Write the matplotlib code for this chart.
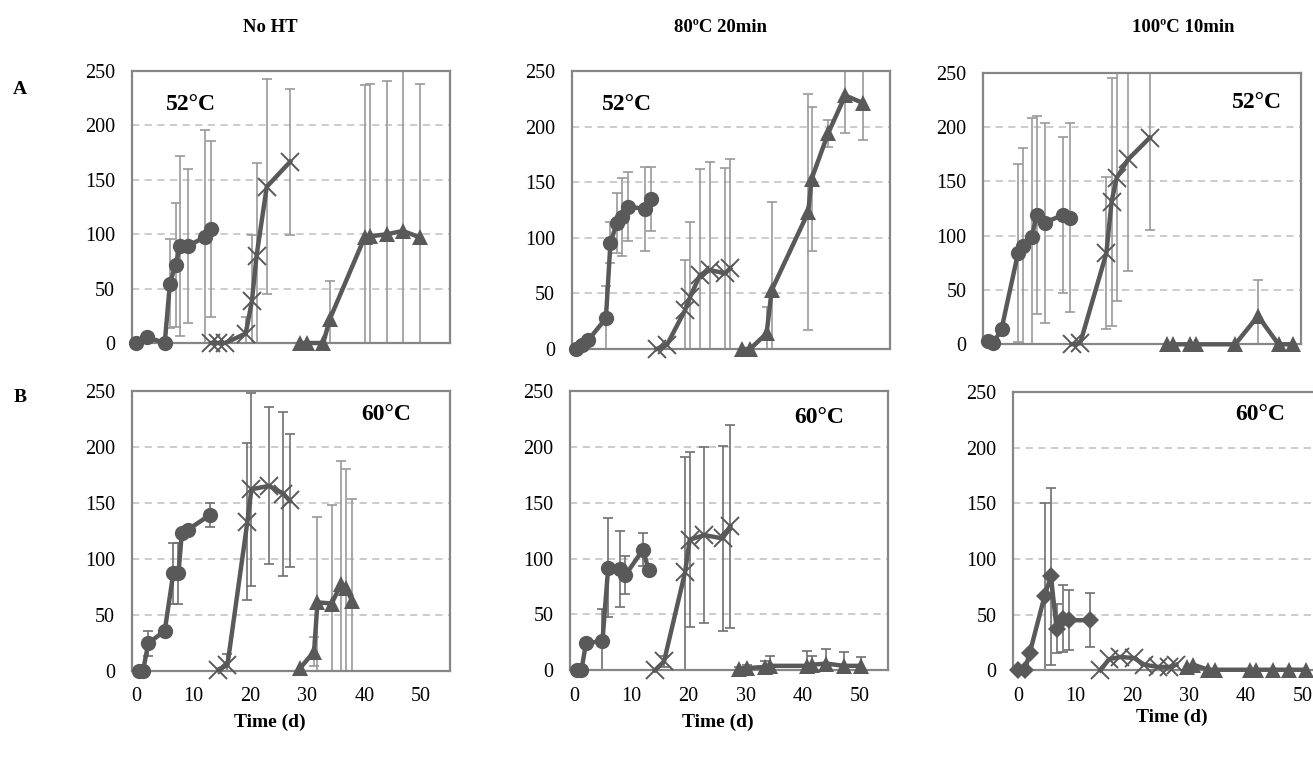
import numpy as np
import matplotlib
matplotlib.use("Agg")
from matplotlib import pyplot as plt

plt.rcParams['font.family'] = ['Liberation Serif', 'DejaVu Serif']

# ---- data (day, value, error) ----
# row A (52 C)
tl_c_day = [0, 1.8, 5.0, 5.9, 6.9, 7.7, 9.0, 12.1, 13.2]
tl_c_val = [0, 5.5, 0, 54.6, 72, 89, 89, 97.5, 105]
tl_c_err = [0, 0, 0, 41, 57, 83, 71, 98, 81]
tl_x_day = [13.2, 14.4, 15.6, 19.2, 20.3, 21.1, 22.9, 27.0]
tl_x_val = [0, 0, 0, 8.6, 38.7, 79.8, 143.6, 166.6]
tl_x_err = [0, 0, 0, 15, 61, 86, 99, 67]
tl_t_day = [28.7, 29.9, 32.8, 34.0, 40.1, 41.0, 44.0, 46.8, 49.8]
tl_t_val = [0, 0, 0, 22.4, 97.5, 98, 100, 103, 97]
tl_t_err = [0, 0, 0, 35, 140, 140, 141, 150, 141]

tm_c_day = [0, 0.95, 2.1, 5.2, 6.0, 7.1, 8.0, 9.0, 12.1, 13.1]
tm_c_val = [0, 3.6, 8, 27.5, 95.5, 113, 119, 128, 126, 135]
tm_c_err = [0, 0, 0, 29.5, 18.5, 27, 35, 31, 38, 29]
tm_x_day = [14.1, 15.9, 19.1, 20.0, 21.7, 23.5, 26.1, 27.0]
tm_x_val = [0, 3.6, 35, 47, 66.5, 71, 68, 72.5]
tm_x_err = [0, 0, 45, 67, 95, 97, 95, 98.5]
tm_t_day = [29.0, 30.5, 33.4, 34.3, 40.7, 41.3, 44.2, 47.2, 50.4]
tm_t_val = [0, 0, 14, 53, 123, 153, 194, 228, 221]
tm_t_err = [0, 0, 24, 79, 106, 65, 12, 34, 33]

tr_c_day = [0, 0.95, 2.4, 5.3, 6.2, 7.7, 8.6, 10.0, 13.2, 14.4]
tr_c_val = [3, 1, 14, 84, 90, 99, 119, 112, 119, 116.5]
tr_c_err = [0, 0, 0, 82, 91, 109, 91, 92, 72, 87]
tr_x_day = [14.7, 16.2, 20.8, 21.7, 22.6, 24.6, 28.4]
tr_x_val = [0, 1, 84, 131, 153, 170, 190]
tr_x_err = [0, 0, 70, 114, 113, 103, 85]
tr_t_day = [31.4, 32.5, 35.5, 36.6, 43.4, 47.4, 51.0, 53.6]
tr_t_val = [0, 0, 0, 0, 0, 26, 0, 0]
tr_t_err = [0, 0, 0, 0, 0, 33, 0, 0]

# row B (60 C)
bl_c_day = [0.4, 1.2, 2.1, 5.0, 6.5, 7.4, 8.0, 9.0, 12.9]
bl_c_val = [0, 0, 24.4, 35.7, 87, 87, 123, 125.6, 139]
bl_c_err = [0, 0, 11, 0, 27, 27, 0, 0, 11]
bl_x_day = [14.4, 16.0, 19.5, 20.2, 23.3, 25.8, 26.9]
bl_x_val = [1, 5, 133, 162, 165, 158, 152]
bl_x_err = [0, 10, 70, 86, 70, 73, 59]
bl_t_day = [28.7, 31.2, 31.8, 34.3, 35.9, 36.8, 37.9]
bl_t_val = [2, 17, 61, 60, 77, 74, 62]
bl_t_err = [0, 13, 76, 88, 110, 106, 91]

bm_c_day = [0.4, 1.2, 2.0, 4.9, 5.9, 8.0, 8.9, 12.0, 13.0]
bm_c_val = [0, 0, 24, 26.5, 92, 91, 85, 108, 90]
bm_c_err = [0, 0, 0, 28, 44, 34, 17, 15, 0]
bm_x_day = [14.1, 15.7, 19.4, 20.2, 22.8, 26.0, 27.3]
bm_x_val = [0, 8, 88, 117, 121, 118, 129]
bm_x_err = [0, 5, 103, 78, 79, 83, 91]
bm_t_day = [28.8, 30.2, 33.4, 34.3, 40.7, 41.6, 44.2, 47.2, 50.2]
bm_t_val = [1, 2, 3, 4, 4, 5, 6, 4, 4]
bm_t_err = [2, 3, 5, 9, 13, 8, 13, 12, 8]

br_d_day = [0, 1.2, 2.1, 4.7, 5.8, 6.8, 8.0, 8.9, 12.7]
br_d_val = [0, 0, 15.8, 67, 84.5, 37.5, 46.4, 45, 45]
br_d_err = [0, 0, 0, 83.6, 79.5, 22, 30, 27, 24]
br_x_day = [14.5, 16.0, 18.0, 20.4, 22.2, 24.6, 26.6, 27.8]
br_x_val = [0, 10, 12, 11, 5, 3, 3, 5]
br_x_err = [0, 0, 0, 0, 0, 0, 0, 0]
br_t_day = [29.6, 30.8, 33.4, 34.6, 40.8, 41.7, 44.7, 47.6, 50.6]
br_t_val = [3, 5, 0.5, 0.5, 0.5, 0.5, 0.5, 0.5, 0.5]
br_t_err = [0, 0, 0, 0, 0, 0, 0, 0, 0]

col_titles = ["No HT", "80ºC 20min", "100ºC 10min"]
row_labels = ["A", "B"]
yticks = [0, 50, 100, 150, 200, 250]
xticks = [0, 10, 20, 30, 40, 50]

W, H = 1313, 758
fig = plt.figure(figsize=(W / 100, H / 100), dpi=100)
fig.patch.set_facecolor("white")

LINE = "#595959"
SPINE = "#868686"


def add_panel(left, top, bottom, bottom_row):
    width = 318
    ax = fig.add_axes([left / W, 1 - bottom / H, width / W, (bottom - top) / H])
    ax.set_xlim(-0.8, 55)
    ax.set_ylim(0, 250)
    ax.set_yticks(yticks)
    ax.yaxis.grid(True, ls=(0, (4, 3)), color="#c8c8c8", lw=1.3)
    ax.set_axisbelow(True)
    for s in ax.spines.values():
        s.set_color(SPINE)
        s.set_linewidth(1.6)
    ax.tick_params(axis="y", length=0, pad=12, labelsize=14.5)
    if bottom_row:
        ax.set_xticks(xticks)
        ax.tick_params(axis="x", length=0, pad=12, labelsize=14.5)
    else:
        ax.set_xticks([])
    return ax


def series(ax, d, v, e, marker, ms, ecol, mew=0.0):
    d = np.array(d)
    v = np.array(v)
    e = np.array(e)
    m = e > 0
    if m.any():
        ax.errorbar(d[m], v[m], yerr=e[m], fmt="none", ecolor=ecol,
                    elinewidth=1.2, capsize=3.6, capthick=1.2, zorder=2)
    if marker == "x":
        ax.plot(d, v, color=LINE, lw=3.2, marker="x", ms=ms, mew=1.4,
                mec=LINE, clip_on=False, zorder=3)
    else:
        ax.plot(d, v, color=LINE, lw=3.2, marker=marker, ms=ms, mfc=LINE,
                mec=LINE, mew=mew, clip_on=False, zorder=3)


LIGHT = "#9a9a9a"
DARK = "#707070"

ax = add_panel(131.7, 71, 343, False)
series(ax, tl_c_day, tl_c_val, tl_c_err, "o", 11, LIGHT)
series(ax, tl_x_day, tl_x_val, tl_x_err, "x", 13, LIGHT)
series(ax, tl_t_day, tl_t_val, tl_t_err, "^", 11, LIGHT)

ax = add_panel(571.7, 71, 349, False)
series(ax, tm_c_day, tm_c_val, tm_c_err, "o", 11, LIGHT)
series(ax, tm_x_day, tm_x_val, tm_x_err, "x", 13, LIGHT)
series(ax, tm_t_day, tm_t_val, tm_t_err, "^", 11, LIGHT)

ax = add_panel(983.3, 72.5, 344.3, False)
series(ax, tr_c_day, tr_c_val, tr_c_err, "o", 11, LIGHT)
series(ax, tr_x_day, tr_x_val, tr_x_err, "x", 13, LIGHT)
series(ax, tr_t_day, tr_t_val, tr_t_err, "^", 11, LIGHT)

ax = add_panel(131.7, 390.7, 670.7, True)
series(ax, bl_c_day, bl_c_val, bl_c_err, "o", 11, DARK)
series(ax, bl_x_day, bl_x_val, bl_x_err, "x", 13, DARK)
series(ax, bl_t_day, bl_t_val, bl_t_err, "^", 11, LIGHT)

ax = add_panel(570, 391, 670.3, True)
series(ax, bm_c_day, bm_c_val, bm_c_err, "o", 11, DARK)
series(ax, bm_x_day, bm_x_val, bm_x_err, "x", 13, DARK)
series(ax, bm_t_day, bm_t_val, bm_t_err, "^", 11, DARK)

ax = add_panel(1013.3, 392, 670.3, True)
series(ax, br_d_day, br_d_val, br_d_err, "D", 9, DARK)
series(ax, br_x_day, br_x_val, br_x_err, "x", 13, DARK)
series(ax, br_t_day, br_t_val, br_t_err, "^", 11, DARK)


def ftext(x, y, s, size, **kw):
    fig.text(x / W, 1 - y / H, s, fontsize=size, fontweight="bold",
             ha="center", va="center", **kw)


for x, t in zip([270, 720, 1183], col_titles):
    ftext(x, 27, t, 13.5)
ftext(20, 90, row_labels[0], 14)
ftext(20, 398, row_labels[1], 14)

for x, y in [(191, 105), (627, 105), (1257, 103)]:
    ftext(x, y, "52°C", 17)
for x, y in [(386, 415), (819, 417), (1260, 415)]:
    ftext(x, y, "60°C", 17)

for x, y in [(270, 722), (718, 722), (1172, 717)]:
    ftext(x, y, "Time (d)", 14)

plt.savefig("out.png", dpi=100)
